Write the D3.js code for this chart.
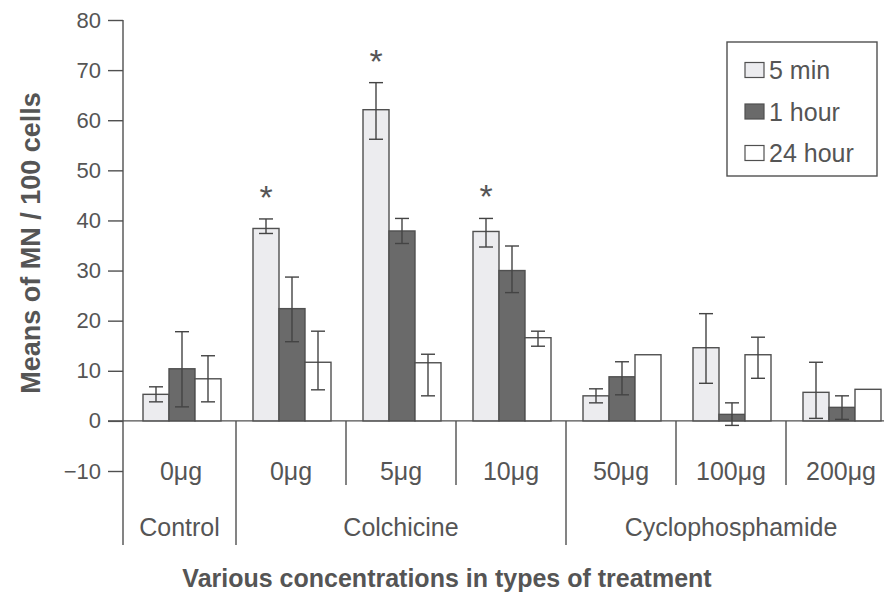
<!DOCTYPE html>
<html>
<head>
<meta charset="utf-8">
<script src="https://cdn.jsdelivr.net/npm/d3@7"></script>
<style>
  body { margin: 0; background: #fff; }
  svg { display: block; }
  text { font-family: "Liberation Sans", Arial, sans-serif; fill: #555; }
</style>
</head>
<body>
<div class="chart"></div>
<script>
const width = 884
const height = 598

// data
const doses = ["0μg", "0μg", "5μg", "10μg", "50μg", "100μg", "200μg"]
const treatments = ["Control", "Colchicine", "Cyclophosphamide"]
const treatmentSize = [1, 3, 3]
const series = ["5 min", "1 hour", "24 hour"]

const mean5min = [5.3, 38.4, 62.1, 37.8, 5.0, 14.6, 5.7]
const hi5min   = [6.8, 40.3, 67.5, 40.4, 6.4, 21.4, 11.7]
const lo5min   = [3.8, 37.4, 56.2, 34.7, 3.6, 7.5, 0.5]

const mean1h = [10.4, 22.4, 37.9, 30.0, 8.8, 1.3, 2.7]
const hi1h   = [17.8, 28.7, 40.4, 34.9, 11.8, 3.6, 5.0]
const lo1h   = [2.8, 15.8, 35.4, 25.6, 5.2, -0.9, 0.3]

const mean24h = [8.4, 11.7, 11.6, 16.6, 13.2, 13.2, 6.3]
const hi24h   = [13.0, 17.9, 13.3, 17.9, null, 16.7, null]
const lo24h   = [3.8, 6.2, 5.0, 14.9, null, 8.5, null]

const starred = [false, true, true, true, false, false, false]
const yTicks = [-10, 0, 10, 20, 30, 40, 50, 60, 70, 80]

const fills = ["#ececef", "#6a6a6a", "#ffffff"]
const ink = "#505050"

const svg = d3.select(".chart").append("svg")
    .attr("width", width)
    .attr("height", height)

const y = d3.scaleLinear().domain([-10, 80]).range([471, 20])
const x0 = d3.scaleBand().domain(d3.range(doses.length)).range([126, 896])
const x1 = d3.scaleBand().domain(d3.range(series.length)).range([17, 95])

const axisX = 123
const baseY = y(0)

// y axis
const yAxis = d3.axisLeft(y)
    .tickValues(yTicks)
    .tickSize(15)
    .tickSizeOuter(0)
    .tickPadding(7)

const gy = svg.append("g")
    .attr("transform", `translate(${axisX},0)`)
    .call(yAxis)
gy.select(".domain").remove()
gy.selectAll(".tick line").attr("stroke", ink).attr("stroke-width", 1.4)
gy.selectAll(".tick text")
    .style("font-size", "22px")
    .style("font-family", "Liberation Sans, Arial, sans-serif")
    .attr("fill", "#555")
    .text(d => d < 0 ? "\u2212" + Math.abs(d) : d)

svg.append("line")
    .attr("x1", axisX).attr("x2", axisX)
    .attr("y1", y(80)).attr("y2", 545)
    .attr("stroke", ink).attr("stroke-width", 1.4)

// baseline
svg.append("line")
    .attr("x1", axisX - 15).attr("x2", width)
    .attr("y1", baseY).attr("y2", baseY)
    .attr("stroke", ink).attr("stroke-width", 1.4)

// separators below the baseline
let starts = [0]
treatmentSize.forEach((n, i) => starts.push(starts[i] + n))
const majorIdx = starts.slice(1, -1)
d3.range(1, doses.length).forEach(i => {
    const major = majorIdx.includes(i)
    svg.append("line")
        .attr("x1", x0(i)).attr("x2", x0(i))
        .attr("y1", baseY).attr("y2", major ? 545 : 485)
        .attr("stroke", ink).attr("stroke-width", 1.4)
})

// dose labels
svg.selectAll(".dose")
    .data(doses)
    .enter()
    .append("text")
    .attr("class", "dose")
    .attr("x", (d, i) => x0(i) + x0.bandwidth() / 2)
    .attr("y", 480)
    .attr("text-anchor", "middle")
    .style("font-size", "25px")
    .text(d => d)

// treatment labels
svg.selectAll(".treat")
    .data(treatments)
    .enter()
    .append("text")
    .attr("class", "treat")
    .attr("x", (d, i) => {
        const a = i == 0 ? axisX : x0(starts[i])
        const b = x0(starts[i + 1] - 1) + x0.bandwidth()
        return (a + b) / 2
    })
    .attr("y", 536)
    .attr("text-anchor", "middle")
    .style("font-size", "25px")
    .text(d => d)

// bars + error bars
const means = [mean5min, mean1h, mean24h]
const his = [hi5min, hi1h, hi24h]
const los = [lo5min, lo1h, lo24h]

const rows = []
series.forEach((s, k) => {
    doses.forEach((d, i) => {
        rows.push({ k, i, v: means[k][i], hi: his[k][i], lo: los[k][i] })
    })
})

svg.selectAll(".bar")
    .data(rows)
    .enter()
    .append("rect")
    .attr("class", "bar")
    .attr("x", d => x0(d.i) + x1(d.k))
    .attr("width", x1.bandwidth())
    .attr("y", d => y(d.v))
    .attr("height", d => baseY - y(d.v))
    .attr("fill", d => fills[d.k])
    .attr("stroke", ink)
    .attr("stroke-width", 1.4)

const err = svg.selectAll(".err")
    .data(rows.filter(d => d.hi != null))
    .enter()
    .append("g")
    .attr("class", "err")
    .attr("transform", d => `translate(${x0(d.i) + x1(d.k) + x1.bandwidth() / 2},0)`)
    .attr("stroke", "#444")
    .attr("stroke-width", 1.4)

err.append("line").attr("y1", d => y(d.hi)).attr("y2", d => y(d.lo))
err.append("line").attr("x1", -7).attr("x2", 7).attr("y1", d => y(d.hi)).attr("y2", d => y(d.hi))
err.append("line").attr("x1", -7).attr("x2", 7).attr("y1", d => y(d.lo)).attr("y2", d => y(d.lo))

// significance stars
svg.selectAll(".star")
    .data(doses.map((d, i) => i).filter(i => starred[i]))
    .enter()
    .append("text")
    .attr("class", "star")
    .attr("x", i => x0(i) + x1(0) + x1.bandwidth() / 2)
    .attr("y", i => y(hi5min[i]) - 10)
    .attr("text-anchor", "middle")
    .style("font-size", "34px")
    .attr("fill", "#666")
    .text("*")

// legend
const legend = svg.append("g")
svg.append("rect")
    .attr("x", 727).attr("y", 42)
    .attr("width", 150).attr("height", 134)
    .attr("fill", "none").attr("stroke", ink).attr("stroke-width", 1.4)

const item = legend.selectAll(".item")
    .data(series)
    .enter()
    .append("g")
    .attr("transform", (d, k) => `translate(745,${70 + k * 41.5})`)

item.append("rect")
    .attr("x", 0).attr("y", -7.5)
    .attr("width", 19).attr("height", 15)
    .attr("fill", (d, k) => fills[k])
    .attr("stroke", ink).attr("stroke-width", 1.2)

item.append("text")
    .attr("x", 24).attr("y", 9)
    .style("font-size", "25px")
    .text(d => d)

// axis titles
svg.append("text")
    .attr("x", 447).attr("y", 587)
    .attr("text-anchor", "middle")
    .style("font-size", "25px")
    .style("font-weight", "bold")
    .attr("fill", "#383838")
    .text("Various concentrations in types of treatment")

svg.append("text")
    .attr("transform", "translate(40,243) rotate(-90)")
    .attr("text-anchor", "middle")
    .style("font-size", "27px")
    .style("font-weight", "bold")
    .attr("fill", "#383838")
    .text("Means of MN / 100 cells")
</script>
</body>
</html>
